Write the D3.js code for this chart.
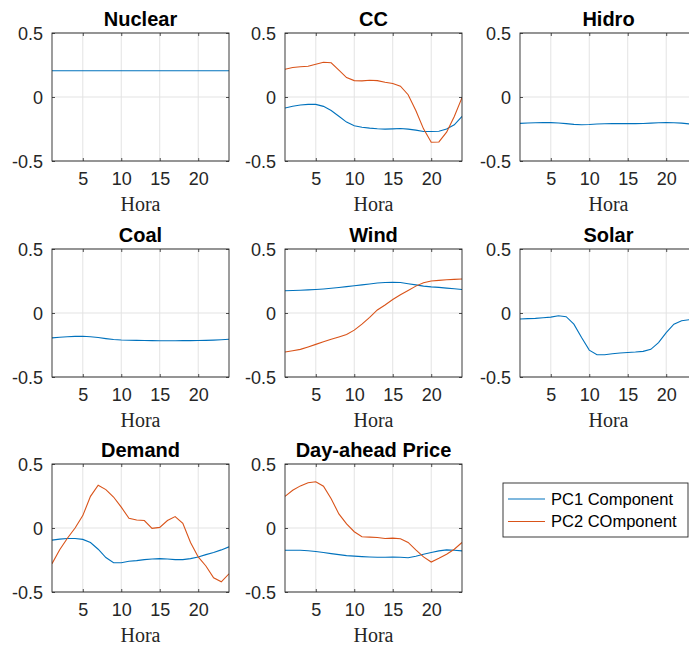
<!DOCTYPE html>
<html>
<head>
<meta charset="utf-8">
<script src="https://cdn.jsdelivr.net/npm/d3@7"></script>
<style>
  html, body { margin: 0; padding: 0; background: #fff; }
  svg { display: block; }
</style>
</head>
<body>
<svg id="chart" width="689" height="646"></svg>
<script>
// Hour axis
const hours = d3.range(1, 25);

// Panel titles, in reading order
const titles = ["Nuclear", "CC", "Hidro", "Coal", "Wind", "Solar", "Demand", "Day-ahead Price"];

// First principal component loadings per hour
const pc1Nuclear = [0.205,0.205,0.205,0.205,0.205,0.205,0.205,0.205,0.205,0.205,0.205,0.205,0.205,0.205,0.205,0.205,0.205,0.205,0.205,0.205,0.205,0.205,0.205,0.205];
const pc1CC      = [-0.086,-0.072,-0.063,-0.058,-0.058,-0.073,-0.105,-0.150,-0.196,-0.225,-0.236,-0.243,-0.248,-0.251,-0.249,-0.246,-0.251,-0.259,-0.270,-0.270,-0.267,-0.250,-0.217,-0.152];
const pc1Hidro   = [-0.206,-0.203,-0.201,-0.200,-0.200,-0.203,-0.208,-0.214,-0.217,-0.215,-0.211,-0.209,-0.208,-0.208,-0.208,-0.208,-0.207,-0.204,-0.201,-0.200,-0.201,-0.204,-0.210,-0.216];
const pc1Coal    = [-0.194,-0.190,-0.186,-0.183,-0.182,-0.185,-0.192,-0.200,-0.207,-0.211,-0.213,-0.214,-0.215,-0.216,-0.217,-0.217,-0.217,-0.216,-0.216,-0.215,-0.214,-0.212,-0.209,-0.205];
const pc1Wind    = [0.174,0.176,0.178,0.181,0.184,0.188,0.193,0.199,0.206,0.213,0.220,0.227,0.234,0.238,0.240,0.238,0.229,0.220,0.210,0.204,0.200,0.194,0.189,0.184];
const pc1Solar   = [-0.047,-0.044,-0.042,-0.037,-0.032,-0.021,-0.029,-0.087,-0.192,-0.290,-0.326,-0.326,-0.318,-0.313,-0.308,-0.305,-0.300,-0.284,-0.231,-0.153,-0.087,-0.060,-0.053,-0.050];
const pc1Demand  = [-0.095,-0.087,-0.082,-0.082,-0.089,-0.113,-0.166,-0.231,-0.271,-0.271,-0.260,-0.255,-0.247,-0.242,-0.239,-0.242,-0.247,-0.247,-0.239,-0.226,-0.208,-0.192,-0.171,-0.147];
const pc1Price   = [-0.174,-0.174,-0.174,-0.178,-0.184,-0.192,-0.200,-0.208,-0.216,-0.220,-0.224,-0.227,-0.229,-0.228,-0.226,-0.229,-0.232,-0.221,-0.205,-0.192,-0.179,-0.171,-0.174,-0.179];

// Second principal component loadings per hour (only where drawn)
const pc2CC      = [0.217,0.230,0.236,0.240,0.256,0.272,0.267,0.210,0.152,0.128,0.126,0.131,0.128,0.115,0.105,0.084,0.018,-0.105,-0.249,-0.353,-0.351,-0.275,-0.152,-0.005];
const pc2Wind    = [-0.305,-0.295,-0.284,-0.265,-0.245,-0.225,-0.205,-0.187,-0.168,-0.134,-0.087,-0.034,0.024,0.063,0.105,0.142,0.176,0.210,0.237,0.250,0.255,0.260,0.263,0.266];
const pc2Demand  = [-0.279,-0.170,-0.080,0.000,0.097,0.247,0.334,0.300,0.242,0.163,0.076,0.063,0.058,-0.003,0.005,0.058,0.089,0.037,-0.113,-0.226,-0.297,-0.389,-0.420,-0.358];
const pc2Price   = [0.247,0.295,0.329,0.353,0.361,0.326,0.229,0.110,0.032,-0.029,-0.068,-0.071,-0.074,-0.082,-0.079,-0.084,-0.113,-0.171,-0.226,-0.266,-0.237,-0.205,-0.166,-0.113];

const pc1Series = [pc1Nuclear, pc1CC, pc1Hidro, pc1Coal, pc1Wind, pc1Solar, pc1Demand, pc1Price];
const pc2Series = [null, pc2CC, null, null, pc2Wind, null, pc2Demand, pc2Price];

// Axis ticks and labels
const xTicks = [5, 10, 15, 20];
const yTicks = [-0.5, 0, 0.5];
const yTickLabels = ["-0.5", "0", "0.5"];
const xLabel = "Hora";
const legendLabels = ["PC1 Component", "PC2 COmponent"];

const colors = ["#0072BD", "#D95319"];
const axisColor = "#262626";
const gridColor = "#e3e3e3";
const sansFont = "'Liberation Sans', Arial, sans-serif";

// Panel layout
const colLeft = [52, 285, 520];
const rowTop = [33, 249, 464];
const panelW = 177, panelH = 128;

const svg = d3.select("#chart");

titles.forEach((title, i) => {
  const col = i % 3, row = Math.floor(i / 3);
  const g = svg.append("g").attr("transform", `translate(${colLeft[col]},${rowTop[row]})`);

  const x = d3.scaleLinear().domain([1, 24]).range([0, panelW]);
  const y = d3.scaleLinear().domain([-0.5, 0.5]).range([panelH, 0]);

  // grid
  g.selectAll("line.gx").data(xTicks).join("line")
    .attr("x1", d => x(d)).attr("x2", d => x(d))
    .attr("y1", 0).attr("y2", panelH)
    .attr("stroke", gridColor).attr("stroke-width", 1);
  g.selectAll("line.gy").data(yTicks).join("line")
    .attr("x1", 0).attr("x2", panelW)
    .attr("y1", d => y(d)).attr("y2", d => y(d))
    .attr("stroke", gridColor).attr("stroke-width", 1);

  // data lines
  const line = d3.line().x((d, k) => x(hours[k])).y(d => y(d));
  const clipId = "clip" + i;
  g.append("clipPath").attr("id", clipId)
    .append("rect").attr("width", panelW).attr("height", panelH);
  const lines = g.append("g").attr("clip-path", `url(#${clipId})`);
  lines.append("path").datum(pc1Series[i])
    .attr("d", line).attr("fill", "none")
    .attr("stroke", colors[0]).attr("stroke-width", 1.1);
  if (pc2Series[i]) {
    lines.append("path").datum(pc2Series[i])
      .attr("d", line).attr("fill", "none")
      .attr("stroke", colors[1]).attr("stroke-width", 1.1);
  }

  // bottom axis with inward ticks
  const xAxis = d3.axisBottom(x).tickValues(xTicks).tickSize(-3).tickPadding(14)
    .tickFormat(d3.format("d"));
  const xa = g.append("g").attr("transform", `translate(0,${panelH})`).call(xAxis);
  // left axis
  const yAxis = d3.axisLeft(y).tickValues(yTicks).tickSize(-3).tickPadding(9)
    .tickFormat((d, k) => yTickLabels[k]);
  const ya = g.append("g").call(yAxis);
  // top and right mirrored ticks
  const xt = g.append("g").call(d3.axisTop(x).tickValues(xTicks).tickSize(-3).tickFormat(""));
  const yr = g.append("g").attr("transform", `translate(${panelW},0)`)
    .call(d3.axisRight(y).tickValues(yTicks).tickSize(-3).tickFormat(""));

  [xa, ya, xt, yr].forEach(a => {
    a.select(".domain").remove();
    a.selectAll(".tick line").attr("stroke", axisColor).attr("stroke-width", 0.8);
    a.selectAll(".tick text")
      .attr("fill", axisColor)
      .style("font-family", sansFont)
      .style("font-size", "18px");
  });
  xa.selectAll(".tick text").attr("dy", "0.58em");
  ya.selectAll(".tick text").attr("dy", "0.36em");

  // box
  g.append("rect").attr("width", panelW).attr("height", panelH)
    .attr("fill", "none").attr("stroke", axisColor).attr("stroke-width", 0.9);

  // title
  g.append("text")
    .attr("x", panelW / 2).attr("y", -7)
    .attr("text-anchor", "middle")
    .style("font-family", sansFont)
    .style("font-weight", "bold")
    .style("font-size", "20px")
    .attr("fill", "#000")
    .text(title);

  // x label
  g.append("text")
    .attr("x", panelW / 2).attr("y", panelH + 50)
    .attr("text-anchor", "middle")
    .style("font-family", "'Liberation Serif', serif")
    .style("font-size", "20px")
    .attr("fill", axisColor)
    .text(xLabel);
});

// legend
const legend = svg.append("g").attr("transform", "translate(503,483)");
legend.append("rect").attr("width", 185).attr("height", 54)
  .attr("fill", "#fff").attr("stroke", axisColor).attr("stroke-width", 0.9);
legendLabels.forEach((lab, k) => {
  const yy = 16 + k * 22.5;
  legend.append("line")
    .attr("x1", 5).attr("x2", 42).attr("y1", yy).attr("y2", yy)
    .attr("stroke", colors[k]).attr("stroke-width", 1.1);
  legend.append("text")
    .attr("x", 48).attr("y", yy).attr("dy", "0.36em")
    .style("font-family", sansFont)
    .style("font-size", "16.5px")
    .attr("fill", "#000")
    .text(lab);
});
</script>
</body>
</html>
